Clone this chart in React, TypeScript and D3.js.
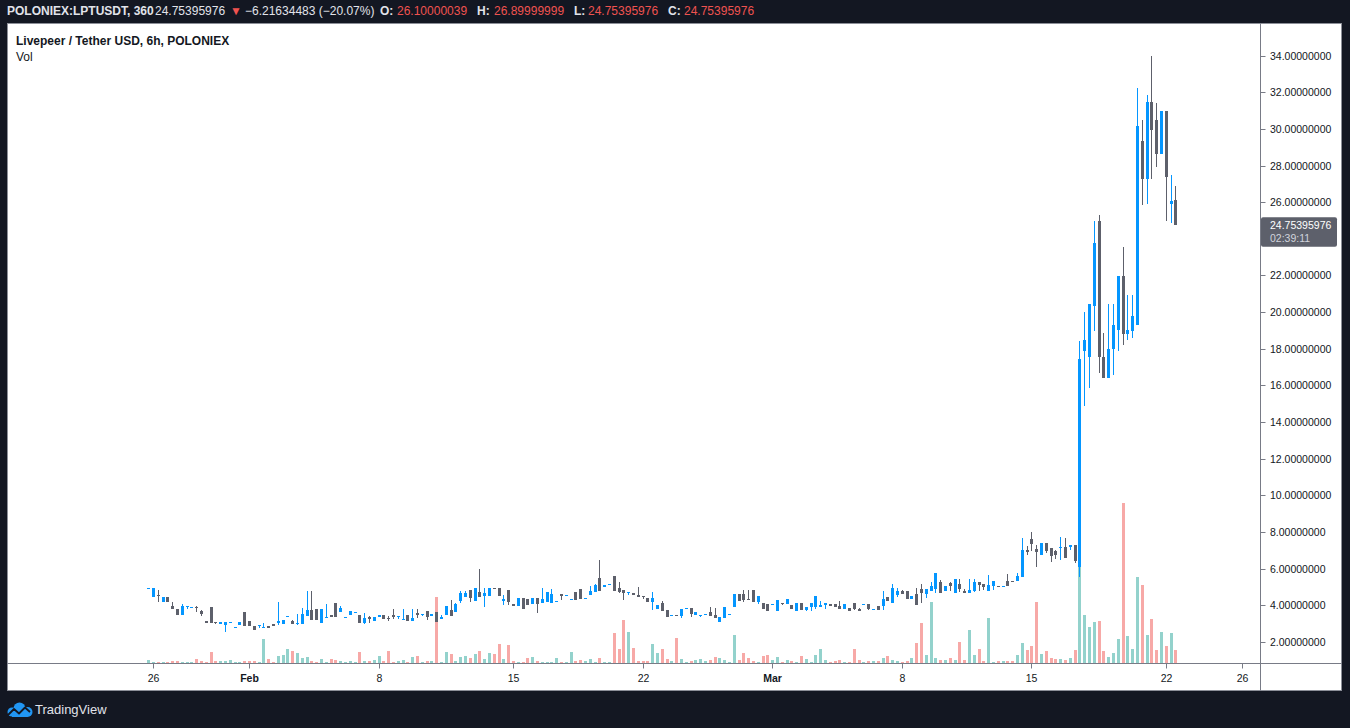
import * as d3 from 'd3';

// LPT/USDT on Poloniex, 6h bars (oldest first)
const open = [
  4.92, 4.42, 4.57, 4.15, 4.46, 3.97, 3.8, 3.44, 3.92, 3.89,
  3.9, 3.69, 3.15, 3.91, 3.07, 2.99, 2.93, 3.06, 2.79, 2.93,
  3.64, 3.13, 2.87, 2.84, 2.79, 2.84, 2.98, 3.02, 2.98, 3.41,
  3.15, 3.03, 2.95, 3.42, 3.75, 3.8, 3.0, 3.36, 3.48, 4.13,
  3.6, 3.36, 3.49, 3.63, 3.48, 3.0, 3.33, 3.11, 3.33, 3.48,
  3.29, 3.48, 3.41, 3.25, 3.48, 3.11, 3.58, 3.52, 3.69, 3.42,
  3.64, 3.22, 3.48, 3.75, 3.64, 4.24, 4.46, 4.84, 4.24, 4.73,
  4.51, 4.51, 4.95, 4.95, 4.24, 4.84, 4.08, 3.97, 4.4, 4.35,
  4.08, 4.4, 4.13, 4.19, 4.13, 4.23, 4.62, 4.56, 4.34, 4.73,
  4.9, 4.37, 4.57, 4.73, 5.5, 5.0, 5.14, 5.61, 4.95, 4.84,
  4.72, 4.68, 4.57, 4.51, 4.4, 4.19, 3.8, 4.13, 3.75, 3.45,
  3.47, 3.42, 3.83, 3.86, 3.48, 3.47, 3.52, 3.64, 3.48, 3.09,
  3.31, 3.5, 3.91, 4.62, 4.62, 4.35, 4.84, 4.19, 4.13, 4.08,
  4.05, 3.69, 4.13, 4.08, 4.02, 3.69, 4.13, 3.75, 3.91, 3.91,
  3.91, 4.02, 4.08, 4.08, 3.97, 3.8, 3.86, 4.13, 3.8, 4.05,
  4.08, 3.77, 3.97, 3.97, 4.46, 4.13, 4.57, 4.79, 4.79, 4.35,
  4.62, 4.9, 4.62, 4.79, 4.9, 5.28, 4.79, 5.22, 4.68, 5.17,
  4.79, 4.68, 4.79, 5.28, 5.17, 4.79, 5.06, 5.06, 5.03, 5.33,
  5.33, 5.33, 5.55, 7.03, 7.63, 7.08, 6.75, 7.41, 7.14, 6.97,
  7.17, 7.19, 7.19, 7.3, 6.1, 17.9, 17.57, 20.36, 24.95, 17.57,
  16.43, 17.96, 19.05, 21.95, 18.83, 18.99, 19.32, 29.32, 27.25, 31.45,
  30.47, 28.61, 30.98, 25.93, 26.10000039,
];
const high = [
  4.94, 4.95, 4.84, 4.46, 4.46, 4.19, 3.8, 4.06, 3.95, 3.9,
  3.97, 3.75, 3.15, 3.91, 3.07, 3.06, 3.07, 3.07, 2.8, 3.09,
  3.64, 3.13, 2.87, 2.93, 3.04, 2.84, 2.98, 4.19, 3.2, 3.42,
  3.2, 3.53, 3.86, 4.79, 4.79, 3.8, 3.8, 4.08, 3.48, 4.13,
  3.93, 3.37, 3.69, 3.64, 3.48, 3.57, 3.42, 3.37, 3.48, 3.48,
  3.4, 3.8, 3.42, 3.8, 3.48, 3.8, 3.8, 3.53, 3.69, 3.53,
  3.64, 3.48, 3.97, 4.3, 4.13, 4.79, 4.79, 4.84, 4.95, 5.99,
  4.95, 4.95, 4.95, 4.95, 4.57, 4.84, 4.08, 4.4, 4.4, 4.35,
  4.4, 4.4, 4.95, 4.73, 4.9, 4.24, 4.62, 4.57, 4.35, 4.73,
  4.9, 4.38, 5.06, 5.17, 6.48, 5.11, 5.15, 5.61, 5.28, 4.84,
  4.73, 4.68, 5.0, 4.51, 4.4, 4.73, 4.02, 4.24, 3.75, 3.46,
  3.47, 3.8, 3.84, 3.86, 3.64, 3.48, 3.53, 3.91, 3.86, 3.37,
  3.91, 3.51, 4.62, 4.62, 4.84, 4.84, 4.84, 4.51, 4.13, 4.08,
  4.06, 4.3, 4.13, 4.35, 4.02, 4.13, 4.13, 3.91, 4.13, 4.51,
  4.24, 4.13, 4.08, 4.08, 4.24, 4.08, 3.86, 4.13, 3.86, 4.06,
  4.08, 3.78, 3.97, 4.79, 4.46, 5.17, 4.95, 4.84, 4.79, 4.51,
  4.95, 5.17, 4.9, 5.28, 5.77, 5.39, 5.06, 5.28, 5.44, 5.44,
  4.9, 5.44, 5.44, 5.28, 5.17, 5.66, 5.33, 5.06, 5.04, 5.72,
  5.33, 5.77, 7.68, 7.25, 8.01, 7.3, 7.41, 7.41, 7.14, 7.03,
  7.74, 7.68, 7.3, 7.3, 18.45, 19.98, 20.42, 24.95, 25.28, 18.88,
  20.42, 20.42, 21.95, 23.58, 20.96, 20.96, 32.22, 30.47, 31.84, 33.97,
  31.4, 30.98, 30.98, 27.47, 26.89999999,
];
const low = [
  4.92, 4.42, 4.15, 4.15, 4.15, 3.77, 3.44, 3.44, 3.78, 3.89,
  3.64, 3.42, 3.04, 3.04, 2.97, 2.99, 2.55, 3.06, 2.79, 2.93,
  2.87, 2.84, 2.66, 2.75, 2.77, 2.77, 2.87, 2.93, 2.98, 3.41,
  2.98, 2.93, 2.95, 3.42, 3.2, 3.2, 3.0, 3.36, 3.33, 3.33,
  3.6, 3.36, 3.49, 3.63, 3.0, 2.95, 3.0, 3.11, 3.33, 3.22,
  3.11, 3.26, 3.26, 3.25, 3.11, 3.11, 3.31, 3.42, 3.2, 3.42,
  3.09, 3.22, 3.48, 3.42, 3.64, 4.13, 4.46, 4.19, 4.24, 4.46,
  3.91, 4.51, 4.9, 4.51, 4.02, 4.02, 3.97, 3.97, 3.8, 4.02,
  4.08, 3.58, 4.13, 4.19, 4.13, 4.23, 4.3, 4.56, 4.34, 4.3,
  4.35, 4.37, 4.57, 4.73, 4.79, 5.0, 5.14, 4.79, 4.68, 4.3,
  4.57, 4.57, 4.46, 4.35, 4.19, 3.75, 3.8, 3.69, 3.37, 3.45,
  3.46, 3.31, 3.83, 3.37, 3.48, 3.37, 3.52, 3.42, 3.31, 3.09,
  3.31, 3.5, 3.91, 4.24, 4.19, 4.3, 4.19, 4.08, 3.8, 3.69,
  4.05, 3.69, 4.02, 4.08, 3.8, 3.69, 3.75, 3.69, 3.69, 3.8,
  3.91, 3.8, 3.97, 3.91, 3.8, 3.8, 3.69, 3.75, 3.69, 4.05,
  3.75, 3.77, 3.75, 3.75, 4.24, 4.13, 4.46, 4.62, 4.35, 4.35,
  4.02, 4.13, 4.4, 4.79, 4.68, 4.68, 4.79, 4.79, 4.68, 4.73,
  4.68, 4.68, 4.73, 4.79, 4.84, 4.79, 4.84, 5.0, 5.03, 5.04,
  5.28, 5.33, 5.55, 6.75, 6.97, 6.1, 6.75, 6.86, 6.37, 6.54,
  6.48, 6.59, 7.03, 6.32, 5.55, 14.9, 15.88, 18.99, 16.7, 16.43,
  16.43, 16.59, 17.9, 18.23, 18.5, 18.61, 19.32, 25.83, 25.93, 27.25,
  27.9, 28.61, 24.95, 24.89, 24.75395976,
];
const close = [
  4.94, 4.95, 4.48, 4.46, 4.15, 3.77, 3.44, 3.95, 3.93, 3.9,
  3.86, 3.53, 3.04, 3.04, 3.02, 3.06, 3.07, 3.07, 2.8, 3.09,
  2.87, 2.84, 2.66, 2.93, 2.8, 2.77, 2.87, 3.15, 3.2, 3.42,
  2.98, 3.04, 3.53, 3.75, 3.2, 3.2, 3.8, 3.37, 3.33, 3.33,
  3.82, 3.37, 3.69, 3.64, 3.0, 3.31, 3.22, 3.37, 3.48, 3.22,
  3.27, 3.37, 3.42, 3.26, 3.11, 3.31, 3.48, 3.53, 3.37, 3.53,
  3.09, 3.37, 3.97, 3.42, 4.08, 4.68, 4.68, 4.4, 4.95, 4.46,
  4.68, 4.95, 4.9, 4.51, 4.35, 4.19, 3.97, 4.4, 3.8, 4.02,
  4.4, 4.08, 4.35, 4.73, 4.62, 4.24, 4.51, 4.57, 4.35, 4.3,
  4.35, 4.38, 4.79, 5.11, 4.79, 5.11, 5.15, 4.79, 4.73, 4.68,
  4.73, 4.57, 4.46, 4.46, 4.19, 4.4, 4.02, 3.69, 3.37, 3.46,
  3.46, 3.8, 3.84, 3.53, 3.64, 3.48, 3.53, 3.42, 3.31, 3.37,
  3.91, 3.51, 4.62, 4.24, 4.3, 4.3, 4.19, 4.51, 3.8, 3.69,
  4.06, 4.3, 4.08, 4.35, 3.8, 4.13, 3.75, 3.91, 4.13, 4.51,
  4.02, 4.13, 3.97, 3.91, 3.8, 4.08, 3.69, 3.8, 3.69, 4.06,
  3.8, 3.78, 3.75, 4.35, 4.24, 4.95, 4.79, 4.62, 4.35, 4.51,
  4.02, 4.68, 4.9, 5.06, 5.77, 4.68, 5.06, 5.06, 5.44, 4.9,
  4.68, 4.84, 5.28, 5.11, 5.0, 5.11, 5.33, 5.0, 5.04, 5.04,
  5.3, 5.61, 7.03, 6.92, 7.36, 6.92, 7.41, 6.97, 6.7, 6.75,
  7.2, 6.59, 7.3, 6.43, 17.46, 18.5, 20.42, 23.75, 17.54, 16.43,
  18.01, 19.32, 21.95, 18.83, 19.05, 19.81, 30.14, 27.25, 31.45, 29.92,
  28.61, 30.98, 27.36, 26.04, 24.75395976,
];
// volume in thousands of LPT
const volume = [
  3.3, 1.3, 1.3, 1.3, 1.3, 2.3, 2.3, 1.3, 1.3, 1.3,
  4, 2.3, 1.3, 11.3, 2.3, 2.3, 2.3, 3.3, 1.3, 1.3,
  2.3, 2.3, 2.3, 1.3, 24.3, 4.3, 1.3, 7.3, 8.3, 14.3,
  12.3, 10.3, 5.3, 6.3, 2.3, 1.3, 4.3, 1.3, 4.3, 3.3,
  2.3, 1.3, 2.3, 1.3, 11.3, 2.3, 2.3, 3.3, 7.3, 2.3,
  12.3, 1.3, 2.3, 3.3, 1.3, 6.3, 7.3, 1.3, 2.3, 2.3,
  66.3, 1.3, 11.3, 9.3, 2.3, 6.3, 7.3, 5.3, 9.3, 12.3,
  4.3, 10.3, 9.3, 19.3, 4.3, 18.3, 2.3, 1.3, 1.3, 5.3,
  6.3, 2.3, 1.3, 1.3, 1.3, 5.3, 1.3, 1.3, 11.3, 2.3,
  3.3, 2.3, 4.3, 1.3, 5.3, 1.3, 1.3, 30.3, 14.3, 43.3,
  31.3, 15.3, 2.3, 2.3, 2.3, 19.3, 10.3, 14.3, 4.3, 2.3,
  25.3, 4.3, 1.3, 2.3, 3.3, 4.3, 2.3, 3.3, 6.3, 5.3,
  3.3, 1.3, 28.3, 3.3, 10.3, 5.3, 2.3, 1.3, 7.3, 8.3,
  3.3, 6.3, 1.3, 3.3, 2, 1, 7.3, 4.3, 1, 8.3,
  14.3, 3.3, 1, 2, 3.3, 1, 1, 14.3, 3.3, 1,
  2, 2, 2, 5.3, 7.3, 3.3, 2, 1, 2, 5.3,
  20.3, 40.3, 8.3, 61.3, 5.3, 3.3, 3.3, 5.3, 3.3, 21.3,
  3.3, 33.3, 8.3, 14.3, 2, 45.3, 1, 2, 2, 2,
  2, 8, 20, 13, 17, 61, 9, 12, 5, 4,
  4, 3, 5, 13, 123, 48, 36, 41, 42, 12,
  6, 10, 24, 160, 27, 14, 86, 78, 28, 44,
  13, 31, 17, 30, 13,
];

// time axis: label and the bar where that day begins
const timeTickLabels = ['26', 'Feb', '8', '15', '22', 'Mar', '8', '15', '22', '26'];
const timeTickBars = [1, 21, 48, 76, 103, 130, 157, 184, 212, 228];
const monthNames = ['Feb', 'Mar'];

const priceTicks = [2, 4, 6, 8, 10, 12, 14, 16, 18, 20, 22, 24, 26, 28, 30, 32, 34];

const WIDTH = 1350;
const HEIGHT = 728;
const PANEL = { left: 7.5, top: 23.5, right: 1341.5, bottom: 690.5 };
const PRICE_AXIS_X = 1260.5;
const TIME_AXIS_Y = 663.5;
const FONT = "'Liberation Sans', Arial, sans-serif";

const BG = '#131722';
const UP = '#0496ff';
const DOWN = '#5d606b';
const VOL_UP = '#93d2cc';
const VOL_DOWN = '#f7a9a7';
const RED = '#ef5350';
const LINE = '#787b86';

export default function App() {
  const n = close.length;

  const x = d3.scaleLinear().domain([0, n - 1]).range([148.3, 1175.3]);
  const y = d3.scaleLinear().domain([2, 34]).range([641.8, 55.7]);
  const yVol = d3
    .scaleLinear()
    .domain([0, d3.max(volume) as number])
    .range([TIME_AXIS_Y - 0.5, TIME_AXIS_Y - 160.5]);

  const last = close[n - 1];
  const lastY = y(last);

  const volBars = volume.map((v, i) => {
    const cx = Math.round(x(i));
    const top = Math.round(yVol(v));
    const up = close[i] >= open[i];
    return (
      <rect
        key={i}
        x={cx - 1}
        y={top}
        width={3}
        height={Math.max(1, TIME_AXIS_Y - 0.5 - top)}
        fill={up ? VOL_UP : VOL_DOWN}
      />
    );
  });

  const candles = close.map((c, i) => {
    const o = open[i];
    const up = c >= o;
    const color = up ? UP : DOWN;
    const cx = Math.round(x(i));
    const top = Math.round(y(Math.max(o, c)));
    const bottom = Math.round(y(Math.min(o, c)));
    return (
      <g key={i} fill={color} stroke={color}>
        <line
          x1={cx + 0.5}
          x2={cx + 0.5}
          y1={Math.round(y(high[i]))}
          y2={Math.round(y(low[i]))}
          strokeWidth={1}
        />
        <rect x={cx - 1} y={top} width={3} height={Math.max(1, bottom - top)} stroke="none" />
      </g>
    );
  });

  // the price label hides a tick label it would overlap
  const shownPriceTicks = priceTicks.filter((t) => Math.abs(y(t) - lastY) > 14);

  return (
    <svg
      width={WIDTH}
      height={HEIGHT}
      style={{ position: 'absolute', left: 0, top: 0, display: 'block' }}
      fontFamily={FONT}
    >
      <defs>
        <clipPath id="plot">
          <rect x={PANEL.left} y={PANEL.top} width={PRICE_AXIS_X - PANEL.left} height={TIME_AXIS_Y - PANEL.top} />
        </clipPath>
      </defs>
      <rect width={WIDTH} height={HEIGHT} fill={BG} />

      {/* header line */}
      <text y={15} fontSize={12} fill="#e1e3ea">
        <tspan x={7} fontWeight="bold">POLONIEX:LPTUSDT, 360</tspan>
        <tspan x={155}>24.75395976</tspan>
        <tspan x={230} fill={RED}>▼</tspan>
        <tspan x={245}>−6.21634483 (−20.07%)</tspan>
        <tspan x={380} fontWeight="bold">O:</tspan>
        <tspan x={397} fill={RED}>26.10000039</tspan>
        <tspan x={477} fontWeight="bold">H:</tspan>
        <tspan x={494} fill={RED}>26.89999999</tspan>
        <tspan x={574} fontWeight="bold">L:</tspan>
        <tspan x={588} fill={RED}>24.75395976</tspan>
        <tspan x={668} fontWeight="bold">C:</tspan>
        <tspan x={684} fill={RED}>24.75395976</tspan>
      </text>

      {/* chart panel */}
      <rect
        x={PANEL.left}
        y={PANEL.top}
        width={PANEL.right - PANEL.left}
        height={PANEL.bottom - PANEL.top}
        fill="#ffffff"
        stroke="#8c8f98"
      />

      <g clipPath="url(#plot)">
        {volBars}
        {candles}
      </g>

      <text x={16} y={45} fontSize={12} fontWeight="bold" fill={BG}>
        Livepeer / Tether USD, 6h, POLONIEX
      </text>
      <text x={16} y={61} fontSize={12} fill={BG}>
        Vol
      </text>

      {/* axes */}
      <line x1={PANEL.left} x2={PANEL.right} y1={TIME_AXIS_Y} y2={TIME_AXIS_Y} stroke={LINE} />
      <line x1={PRICE_AXIS_X} x2={PRICE_AXIS_X} y1={PANEL.top} y2={PANEL.bottom} stroke={LINE} />

      {timeTickBars.map((b, i) => {
        const tx = Math.round(x(b)) + 0.5;
        return (
          <g key={i}>
            <line x1={tx} x2={tx} y1={TIME_AXIS_Y} y2={TIME_AXIS_Y + 5} stroke={LINE} />
            <text
              x={tx}
              y={682}
              fontSize={10.5}
              textAnchor="middle"
              fill={BG}
              fontWeight={monthNames.includes(timeTickLabels[i]) ? 'bold' : 'normal'}
            >
              {timeTickLabels[i]}
            </text>
          </g>
        );
      })}

      {shownPriceTicks.map((t) => {
        const ty = Math.round(y(t)) + 0.5;
        return (
          <g key={t}>
            <line x1={PRICE_AXIS_X} x2={PRICE_AXIS_X + 5} y1={ty} y2={ty} stroke={LINE} />
            <text x={1270} y={ty + 3.5} fontSize={10.5} fill={BG}>
              {t.toFixed(8)}
            </text>
          </g>
        );
      })}

      {/* last price label */}
      <rect x={PRICE_AXIS_X + 0.5} y={lastY - 7.7} width={76} height={29.4} rx={2} fill={DOWN} />
      <text x={1270} y={lastY + 3.8} fontSize={10.5} fill="#ffffff">
        {last.toFixed(8)}
      </text>
      <text x={1270} y={lastY + 17} fontSize={10.5} fill="#d1d4dc">
        02:39:11
      </text>

      {/* TradingView mark */}
      <g fill="#2196f3">
        <circle cx={12} cy={712} r={4.5} />
        <circle cx={19.5} cy={708.5} r={6} />
        <circle cx={27.5} cy={712} r={5} />
        <rect x={12} y={711} width={15.5} height={6} />
      </g>
      <polyline
        points="8,715 14,709 19,713.5 25,707.5 30,712"
        fill="none"
        stroke={BG}
        strokeWidth={1.8}
        strokeLinejoin="round"
      />
      <text x={35} y={714} fontSize={13} fill="#e1e3ea">
        TradingView
      </text>
    </svg>
  );
}
